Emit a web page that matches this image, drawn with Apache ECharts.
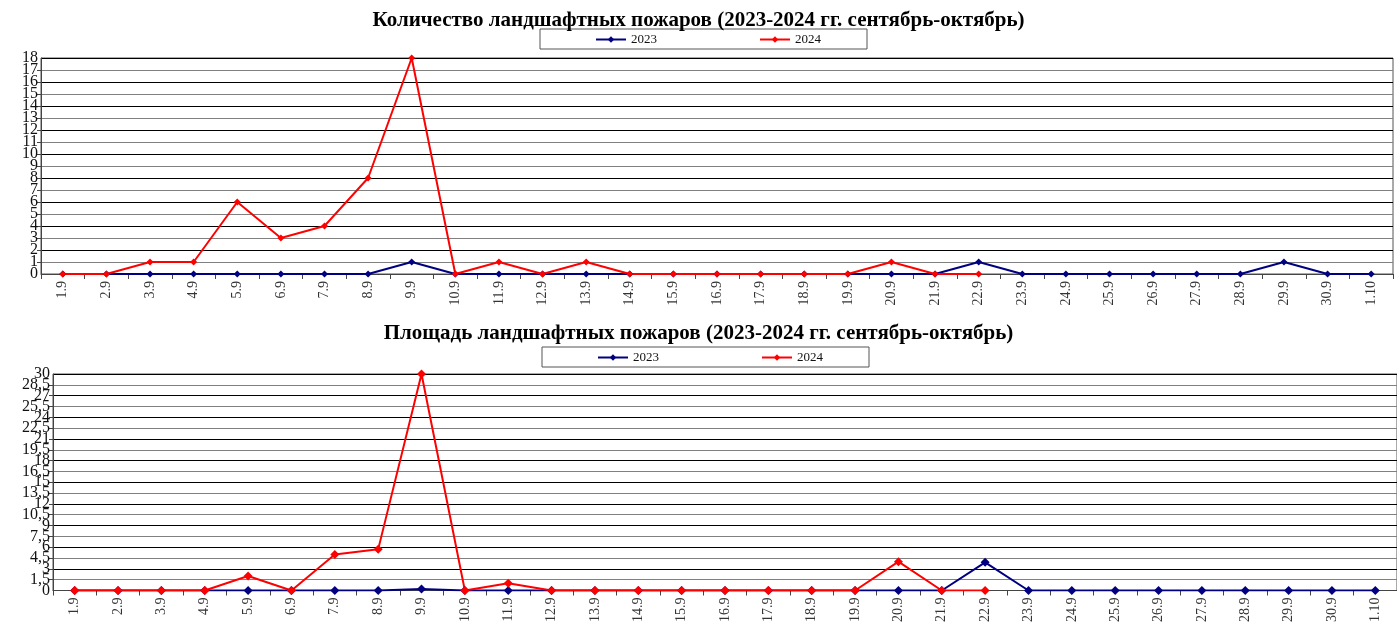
<!DOCTYPE html>
<html>
<head>
<meta charset="utf-8">
<script src="https://cdn.jsdelivr.net/npm/echarts@6/dist/echarts.min.js"></script>
<style>
  html, body { margin: 0; padding: 0; background: #fff; }
  #chart { width: 1397px; height: 625px; }
</style>
</head>
<body>
<div id="chart"></div>
<script>
const days = ["1.9", "2.9", "3.9", "4.9", "5.9", "6.9", "7.9", "8.9", "9.9", "10.9",
  "11.9", "12.9", "13.9", "14.9", "15.9", "16.9", "17.9", "18.9", "19.9", "20.9",
  "21.9", "22.9", "23.9", "24.9", "25.9", "26.9", "27.9", "28.9", "29.9", "30.9", "1.10"];

// количество пожаров
const count2023 = [0, 0, 0, 0, 0, 0, 0, 0, 1, 0, 0, 0, 0, 0, 0, 0, 0, 0, 0, 0,
  0, 1, 0, 0, 0, 0, 0, 0, 1, 0, 0];
const count2024 = [0, 0, 1, 1, 6, 3, 4, 8, 18, 0, 1, 0, 1, 0, 0, 0, 0, 0, 0, 1,
  0, 0, null, null, null, null, null, null, null, null, null];

// площадь пожаров
const area2023 = [0, 0, 0, 0, 0, 0, 0, 0, 0.2, 0, 0, 0, 0, 0, 0, 0, 0, 0, 0, 0,
  0, 3.9, 0, 0, 0, 0, 0, 0, 0, 0, 0];
const area2024 = [0, 0, 0, 0, 2, 0, 5, 5.7, 30, 0, 1, 0, 0, 0, 0, 0, 0, 0, 0, 4,
  0, 0, null, null, null, null, null, null, null, null, null];

const titles = [
  "Количество ландшафтных пожаров (2023-2024 гг. сентябрь-октябрь)",
  "Площадь ландшафтных пожаров (2023-2024 гг. сентябрь-октябрь)"
];

const serif = "Liberation Serif";
const blue = "#000080";
const red = "#ff0000";

const chart = echarts.init(document.getElementById("chart"));

const fmt = (v) => String(v).replace(".", ",");

function xAxisFor(gridIndex) {
  return {
    type: "category",
    gridIndex,
    data: days,
    boundaryGap: true,
    axisLine: { lineStyle: { color: "#444", width: 1 } },
    axisTick: { show: true, length: 5, lineStyle: { color: "#444" } },
    axisLabel: { rotate: 90, interval: 0, fontFamily: serif, fontSize: 14, color: "#333", margin: 7 },
    splitLine: { show: false }
  };
}

const yLabelStyle = { fontFamily: serif, fontSize: 16, color: "#111", margin: 3 };

// main axis: lines, ticks, inner labels
function yAxisFor(gridIndex, max, interval) {
  return {
    type: "value",
    gridIndex,
    position: "left",
    min: 0,
    max,
    interval,
    axisLine: { show: true, lineStyle: { color: "#444" } },
    axisTick: { show: true, length: 4, lineStyle: { color: "#444" } },
    axisLabel: Object.assign({}, yLabelStyle, {
      showMinLabel: false,
      showMaxLabel: false,
      formatter: fmt
    }),
    splitLine: { show: true, lineStyle: { color: ["#000", "#808080"], width: 1 } }
  };
}

// twin axis: only the end labels (0 and max), which overlap their neighbours
function yEndsFor(gridIndex, max, interval) {
  return {
    type: "value",
    gridIndex,
    position: "left",
    offset: 0,
    min: 0,
    max,
    interval,
    axisLine: { show: false },
    axisTick: { show: false },
    splitLine: { show: false },
    axisLabel: Object.assign({}, yLabelStyle, {
      showMinLabel: true,
      showMaxLabel: true,
      formatter: (v) => (v === 0 || v === max ? fmt(v) : "")
    })
  };
}

function lineSeries(name, data, color, idx, size) {
  return {
    name,
    type: "line",
    xAxisIndex: idx,
    yAxisIndex: idx,
    data,
    color,
    symbol: "diamond",
    symbolSize: size,
    showSymbol: true,
    lineStyle: { width: 2, color },
    itemStyle: { color },
    connectNulls: false,
    animation: false
  };
}

const legendBase = {
  data: ["2023", "2024"],
  orient: "horizontal",
  itemWidth: 30,
  itemHeight: 8,
  itemGap: 102,
  borderColor: "#555",
  borderWidth: 1,
  backgroundColor: "#fff",
  padding: [4, 46, 3, 55],
  textStyle: { fontFamily: serif, fontSize: 13, color: "#111" },
  selectedMode: false
};

chart.setOption({
  animation: false,
  title: [
    { text: titles[0], left: "center", top: 5,
      textStyle: { fontFamily: serif, fontSize: 21, fontWeight: "bold", color: "#000" } },
    { text: titles[1], left: "center", top: 318,
      textStyle: { fontFamily: serif, fontSize: 21, fontWeight: "bold", color: "#000" } }
  ],
  legend: [
    Object.assign({}, legendBase, { left: 540, top: 29 }),
    Object.assign({}, legendBase, { left: 542, top: 347 })
  ],
  grid: [
    { left: 41, right: 4, top: 58, height: 216, show: true, borderColor: "#555", borderWidth: 1, backgroundColor: "transparent" },
    { left: 53, right: -13, top: 374, height: 220, show: true, borderColor: "#555", borderWidth: 1, backgroundColor: "transparent" }
  ],
  xAxis: [xAxisFor(0), xAxisFor(1)],
  yAxis: [yAxisFor(0, 18, 1), yAxisFor(1, 30, 1.5), yEndsFor(0, 18, 1), yEndsFor(1, 30, 1.5)],
  series: [
    lineSeries("2023", count2023, blue, 0, 7),
    lineSeries("2024", count2024, red, 0, 7),
    lineSeries("2023", area2023, blue, 1, 9),
    lineSeries("2024", area2024, red, 1, 9)
  ]
});
</script>
</body>
</html>
